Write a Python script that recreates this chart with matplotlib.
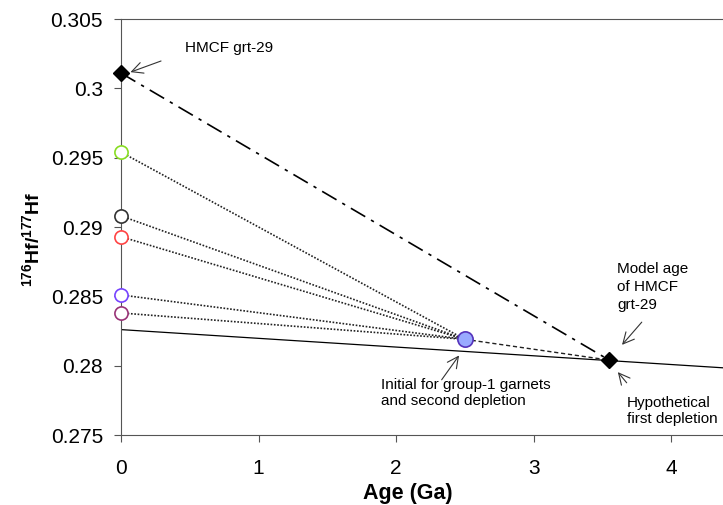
import matplotlib
matplotlib.use("Agg")
import matplotlib.pyplot as plt

plt.rcParams['font.family'] = ['Liberation Sans', 'DejaVu Sans']
plt.rcParams['mathtext.fontset'] = 'custom'
plt.rcParams['mathtext.rm'] = 'Liberation Sans'
plt.rcParams['mathtext.bf'] = 'Liberation Sans:bold'

# present-day garnet ratios (open circles at age 0)
garnet_ratios = [0.2954, 0.2908, 0.2893, 0.2851, 0.2838]
garnet_colors = ['#88dd22', '#333333', '#ff4444', '#7744ff', '#993377']

# initial for group-1 garnets
initial_age = 2.5
initial_ratio = 0.2819

# HMCF grt-29 and its model age
hmcf_ages = [0.0, 3.55]
hmcf_ratios = [0.3011, 0.2804]

# depleted reservoir evolution line
depl_ages = [0.0, 4.45]
depl_ratios = [0.2826, 0.2798]

fig = plt.figure(figsize=(7.23, 5.05), dpi=100)
ax = fig.add_axes([121/723, 1 - 435/505, 1 - 121/723 + 0.01, (435 - 19)/505])

ax.plot(depl_ages, depl_ratios, color='black', lw=0.9, zorder=2)

for r, c in zip(garnet_ratios, garnet_colors):
    ax.plot([0, initial_age], [r, initial_ratio], color='#222222', lw=1.2,
            ls=(0, (1, 1)), zorder=2)
    ax.plot(0, r, 'o', ms=9.5, mfc='white', mec=c, mew=1.2, zorder=4, clip_on=False)

ax.plot([initial_age, hmcf_ages[1]], [initial_ratio, hmcf_ratios[1]],
        color='#222222', lw=1.0, ls=(0, (3, 2)), zorder=2)
ax.plot(hmcf_ages, hmcf_ratios, color='black', lw=1.2,
        ls=(0, (10, 4, 2, 4)), zorder=2)
ax.plot(hmcf_ages, hmcf_ratios, 'D', ms=8, color='black', zorder=5, clip_on=False)
ax.plot(initial_age, initial_ratio, 'o', ms=11, mfc='#99aaff', mec='#5533bb',
        mew=1.2, zorder=5)

arrow = dict(arrowstyle='->', color='#333333', lw=0.8, mutation_scale=20)
fs = 11
ax.text(0.463, 0.3029, 'HMCF grt-29', fontsize=fs, va='center', ha='left')
ax.annotate('', xy=(0.05, 0.3011), xytext=(0.31, 0.30204), arrowprops=arrow)
ax.text(3.61, 0.2875, 'Model age\nof HMCF\ngrt-29', fontsize=fs, ha='left',
        va='top', linespacing=1.4)
ax.annotate('', xy=(3.63, 0.28135), xytext=(3.8, 0.28329), arrowprops=arrow)
ax.text(1.89, 0.27803, 'Initial for group-1 garnets\nand second depletion',
        fontsize=fs, ha='left', va='center', linespacing=1.1)
ax.annotate('', xy=(2.47, 0.2809), xytext=(2.32, 0.27882), arrowprops=arrow)
ax.text(3.68, 0.27673, 'Hypothetical\nfirst depletion', fontsize=fs,
        ha='left', va='center', linespacing=1.1)
ax.annotate('', xy=(3.6, 0.27969), xytext=(3.69, 0.27861), arrowprops=arrow)

ax.set_xlim(0, 4.43)
ax.set_ylim(0.275, 0.305)
ax.set_xticks([0, 1, 2, 3, 4])
ax.set_xticklabels(['0', '1', '2', '3', '4'])
ax.set_yticks([0.275, 0.28, 0.285, 0.29, 0.295, 0.3, 0.305])
ax.set_yticklabels(['0.275', '0.28', '0.285', '0.29', '0.295', '0.3', '0.305'])
ax.tick_params(labelsize=15, direction='out', length=5, color='#555555')
ax.tick_params(axis='y', pad=8)
ax.tick_params(axis='x', pad=12)
for s in ['left', 'bottom', 'top']:
    ax.spines[s].set_color('#555555')
ax.spines['right'].set_visible(False)

ax.set_xlabel('Age (Ga)', fontsize=15.5, fontweight='bold')
ax.xaxis.set_label_coords(0.471, -0.115)
ax.set_ylabel('$\\mathbf{^{176}Hf/^{177}Hf}$', fontsize=14)
ax.yaxis.set_label_coords(-0.128, 0.471)

fig.savefig('out.png', dpi=100)
